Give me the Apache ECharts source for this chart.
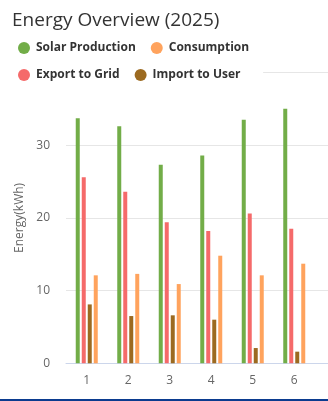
<!DOCTYPE html>
<html>
<head>
<meta charset="utf-8">
<script src="https://cdn.jsdelivr.net/npm/echarts@6/dist/echarts.min.js"></script>
<style>
  html, body { margin: 0; padding: 0; background: #fff; }
  #chart { width: 328px; height: 399px; border-bottom: 2px solid #0b3b8f; }
</style>
</head>
<body>
<div id="chart"></div>
<script>
// Monthly energy figures (kWh)
const months = ['1', '2', '3', '4', '5', '6'];
const solarProduction = [33.7, 32.6, 27.3, 28.6, 33.5, 35.0];
const exportToGrid   = [25.6, 23.6, 19.4, 18.2, 20.6, 18.5];
const importToUser   = [8.1, 6.5, 6.6, 6.0, 2.1, 1.6];
const consumption    = [12.1, 12.3, 10.9, 14.8, 12.1, 13.7];
const yTicks = { min: 0, max: 40, interval: 10 };

const colors = {
  solar: '#72ad48',
  export: '#f56a6a',
  import: '#9c6a20',
  consumption: '#ffa35d'
};

const font = '"Open Sans", "DejaVu Sans", sans-serif';

function barSeries(name, data, color) {
  return {
    name: name,
    type: 'bar',
    data: data,
    barWidth: 4,
    barGap: '50%',
    itemStyle: { color: color },
    emphasis: { disabled: true }
  };
}

const chart = echarts.init(document.getElementById('chart'), null, { renderer: 'canvas' });
chart.setOption({
  animation: false,
  textStyle: { fontFamily: font },
  title: {
    text: 'Energy Overview (2025)',
    left: 7,
    top: 6,
    textStyle: { fontSize: 19, fontWeight: 'normal', color: '#333333', fontFamily: font }
  },
  legend: {
    data: ['Solar Production', 'Consumption', 'Export to Grid', 'Import to User'],
    left: 13,
    top: 37,
    width: 240,
    padding: [5, 14, 5, 5],
    itemGap: 15,
    itemWidth: 14,
    itemHeight: 12,
    icon: 'circle',
    backgroundColor: '#ffffff',
    z: 10,
    textStyle: { fontSize: 12, fontWeight: 'bold', color: '#333333', fontFamily: font }
  },
  grid: {
    left: 66,
    top: 72.5,
    width: 290.5,
    bottom: 35.7,
    containLabel: false,
    outerBoundsMode: 'none'
  },
  xAxis: {
    type: 'category',
    // trailing empty band keeps the plot running past the last month
    data: months.concat(['']),
    axisLine: { lineStyle: { color: '#ccd6eb', width: 1 } },
    axisTick: { show: false },
    axisLabel: { color: '#666666', fontSize: 12, margin: 11, fontFamily: font }
  },
  yAxis: {
    type: 'value',
    min: yTicks.min,
    max: yTicks.max,
    interval: yTicks.interval,
    name: 'Energy(kWh)',
    nameLocation: 'middle',
    nameGap: 33,
    nameTextStyle: { color: '#666666', fontSize: 12, fontFamily: font },
    axisLine: { show: false },
    axisTick: { show: false },
    axisLabel: { color: '#666666', fontSize: 12, margin: 16, fontFamily: font },
    splitLine: { lineStyle: { color: '#e6e6e6', width: 1 } }
  },
  series: [
    barSeries('Solar Production', solarProduction, colors.solar),
    barSeries('Export to Grid', exportToGrid, colors.export),
    barSeries('Import to User', importToUser, colors.import),
    barSeries('Consumption', consumption, colors.consumption)
  ]
});
</script>
</body>
</html>
